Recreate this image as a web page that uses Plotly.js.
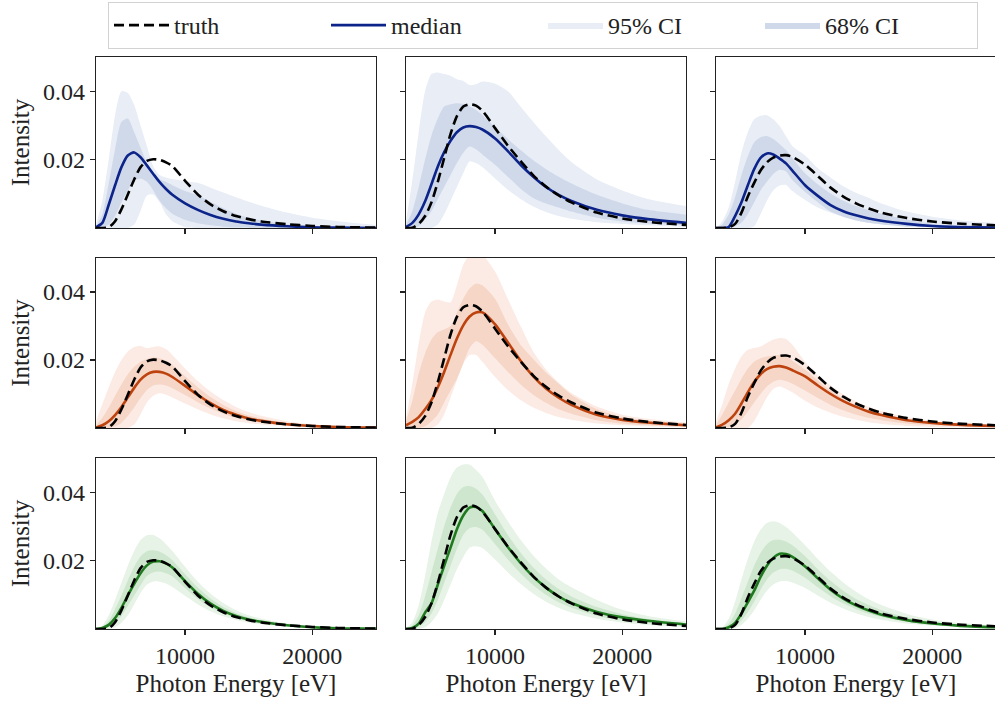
<!DOCTYPE html>
<html>
<head>
<meta charset="utf-8">
<script src="https://cdn.plot.ly/plotly-3.0.1.min.js"></script>
<style>
html, body { margin:0; padding:0; overflow:hidden; background:#fff; }
#plot { width:1000px; height:701px; }
</style>
</head>
<body>
<div id="plot"></div>
<script>
// ---------- data ----------
const energy = [3000,3500,4000,4500,5000,5500,6000,6500,7000,7500,8000,8500,9000,10000,11000,12000,13000,14000,15000,16000,18000,20000,22000,25000];

// truth spectra (one per column)
const truthA = [0,0,0.0002,0.002,0.0055,0.0098,0.0142,0.0178,0.0196,0.0201,0.0199,0.0192,0.0181,0.0138,0.0098,0.0069,0.0049,0.0035,0.0026,0.0019,0.0011,0.0006,0.0003,0.0001];
const truthB = [0,0.0001,0.0012,0.0035,0.0075,0.0135,0.0205,0.0275,0.0327,0.0355,0.0362,0.0358,0.0343,0.0292,0.0241,0.0196,0.0154,0.0121,0.0095,0.0075,0.0045,0.0028,0.0018,0.0009];
const truthC = [0,0,0.0002,0.0012,0.0045,0.0092,0.0132,0.0168,0.0192,0.0206,0.0212,0.0213,0.0208,0.0185,0.0152,0.0118,0.0092,0.0072,0.0057,0.0045,0.0029,0.0019,0.0013,0.0008];

// row 1 (blue)
const med_r1c1 = [0.0002,0.0015,0.0068,0.0125,0.0178,0.0212,0.0221,0.0207,0.0183,0.0158,0.0134,0.0114,0.0097,0.0072,0.0053,0.0038,0.0027,0.0019,0.0014,0.001,0.0005,0.0002,0.0001,0];
const hi95_r1c1 = [0.001,0.008,0.02,0.033,0.04,0.0395,0.036,0.03,0.024,0.018,0.0155,0.0148,0.0143,0.0137,0.0132,0.0118,0.0104,0.009,0.0077,0.0065,0.0045,0.003,0.002,0.0009];
const lo95_r1c1 = [0,0,0,0,0,0,0.001,0.005,0.0095,0.0098,0.0075,0.004,0.002,0.0003,0,0,0,0,0,0,0,0,0,0];
const hi68_r1c1 = [0.0005,0.004,0.013,0.023,0.031,0.032,0.028,0.0235,0.019,0.0155,0.0142,0.0135,0.0125,0.0108,0.0095,0.0077,0.0058,0.0042,0.003,0.0021,0.0011,0.0005,0.0002,0.0001];
const lo68_r1c1 = [0,0,0.001,0.0035,0.0075,0.011,0.0138,0.0145,0.0135,0.011,0.008,0.0058,0.0042,0.0024,0.0014,0.0008,0.0004,0.0002,0.0001,0,0,0,0,0];

const med_r1c2 = [0.0003,0.0015,0.004,0.0078,0.0128,0.018,0.0222,0.0255,0.028,0.0294,0.0298,0.0295,0.0288,0.0262,0.0225,0.0185,0.015,0.012,0.0097,0.0079,0.0053,0.0037,0.0026,0.0015];
const hi95_r1c2 = [0.002,0.014,0.028,0.04,0.045,0.0455,0.045,0.0445,0.0435,0.043,0.0418,0.042,0.0428,0.0422,0.04,0.0355,0.031,0.0268,0.0228,0.0193,0.0142,0.011,0.0085,0.0064];
const lo95_r1c2 = [0,0,0,0,0,0.001,0.004,0.008,0.012,0.016,0.0195,0.019,0.0178,0.0145,0.0112,0.0085,0.0063,0.0047,0.0035,0.0027,0.0017,0.0012,0.0008,0.0004];
const hi68_r1c2 = [0.001,0.005,0.012,0.02,0.027,0.032,0.0355,0.0362,0.0365,0.0363,0.0355,0.0345,0.033,0.0295,0.026,0.0228,0.0198,0.0172,0.015,0.013,0.0097,0.0072,0.0053,0.0039];
const lo68_r1c2 = [0,0,0.0005,0.0025,0.005,0.0085,0.012,0.0155,0.019,0.022,0.0238,0.023,0.0215,0.0185,0.015,0.0115,0.0088,0.0072,0.006,0.0048,0.003,0.0019,0.0013,0.0008];

const med_r1c3 = [0,0,0.0003,0.0035,0.0075,0.0125,0.0172,0.0205,0.0218,0.0215,0.0203,0.0189,0.0168,0.0125,0.0094,0.0067,0.0049,0.0037,0.0028,0.0021,0.0012,0.0006,0.0003,0.0001];
const hi95_r1c3 = [0,0.002,0.006,0.0135,0.022,0.028,0.0318,0.0328,0.033,0.0318,0.0298,0.0268,0.024,0.0212,0.0175,0.0148,0.0122,0.0103,0.0088,0.0072,0.0048,0.0033,0.0023,0.0015];
const lo95_r1c3 = [0,0,0,0,0,0,0.0005,0.004,0.008,0.011,0.0124,0.0126,0.0108,0.0082,0.006,0.0045,0.0032,0.0024,0.0018,0.0012,0.0005,0.0002,0.0001,0];
const hi68_r1c3 = [0,0.001,0.004,0.009,0.0155,0.021,0.025,0.0265,0.0269,0.026,0.0245,0.0228,0.0205,0.016,0.0128,0.0101,0.008,0.0064,0.0052,0.0042,0.0025,0.0012,0.0007,0.0004];
const lo68_r1c3 = [0,0,0,0.0005,0.0015,0.004,0.0075,0.011,0.0135,0.0158,0.017,0.0165,0.014,0.0105,0.0075,0.0048,0.0033,0.0022,0.0015,0.001,0.0004,0.0002,0.0001,0];

// row 2 (orange)
const med_r2c1 = [0.0001,0.0008,0.002,0.0038,0.0062,0.009,0.0118,0.0142,0.0158,0.0165,0.0165,0.016,0.015,0.0124,0.0097,0.0073,0.0053,0.0039,0.0028,0.0021,0.0011,0.0006,0.0003,0.0001];
const hi95_r2c1 = [0.002,0.007,0.012,0.0165,0.02,0.0225,0.0238,0.0242,0.0235,0.0238,0.024,0.0232,0.0215,0.0175,0.0138,0.0107,0.0082,0.0062,0.0047,0.0036,0.002,0.0011,0.0006,0.0003];
const lo95_r2c1 = [0,0,0,0,0,0,0.001,0.004,0.0075,0.0095,0.0102,0.0098,0.009,0.0072,0.0055,0.004,0.0029,0.002,0.0014,0.001,0.0005,0.0002,0.0001,0];
const hi68_r2c1 = [0.0008,0.003,0.006,0.0095,0.0128,0.0158,0.018,0.0195,0.0203,0.0207,0.0205,0.0198,0.0185,0.0152,0.012,0.0091,0.0068,0.005,0.0037,0.0028,0.0015,0.0008,0.0004,0.0002];
const lo68_r2c1 = [0,0,0,0.0005,0.0015,0.0035,0.006,0.0088,0.0112,0.0125,0.0128,0.0125,0.0117,0.0097,0.0076,0.0057,0.0042,0.003,0.0022,0.0016,0.0008,0.0004,0.0002,0.0001];

const med_r2c2 = [0.0008,0.0018,0.0032,0.0055,0.0082,0.012,0.0165,0.0215,0.0263,0.0302,0.0328,0.034,0.034,0.0305,0.0252,0.0198,0.0152,0.0116,0.0089,0.0068,0.0039,0.0024,0.0016,0.0008];
const hi95_r2c2 = [0.003,0.013,0.025,0.034,0.0372,0.0378,0.0372,0.037,0.042,0.048,0.051,0.052,0.051,0.046,0.038,0.03,0.0225,0.0172,0.0133,0.0103,0.0063,0.0039,0.0027,0.0016];
const lo95_r2c2 = [0,0,0,0,0,0.001,0.004,0.009,0.014,0.019,0.0215,0.0215,0.0195,0.015,0.0112,0.0082,0.006,0.0044,0.0032,0.0024,0.0013,0.0008,0.0005,0.0002];
const hi68_r2c2 = [0.002,0.008,0.016,0.022,0.026,0.0282,0.029,0.03,0.034,0.038,0.041,0.0425,0.042,0.038,0.0305,0.0245,0.0203,0.0163,0.013,0.0098,0.0055,0.0032,0.0022,0.0013];
const lo68_r2c2 = [0,0,0,0.0005,0.002,0.004,0.0075,0.011,0.0145,0.019,0.0235,0.0255,0.0245,0.0205,0.0165,0.0128,0.0098,0.0074,0.0055,0.0042,0.0023,0.0013,0.0008,0.0004];

const med_r2c3 = [0.0002,0.001,0.0023,0.0042,0.0072,0.0105,0.0135,0.0158,0.0173,0.018,0.0182,0.0178,0.017,0.0152,0.0125,0.01,0.0079,0.0062,0.0048,0.0038,0.0023,0.0015,0.001,0.0006];
const hi95_r2c3 = [0.002,0.007,0.013,0.0175,0.021,0.023,0.0235,0.024,0.025,0.026,0.0265,0.0262,0.0245,0.0195,0.0155,0.0125,0.0099,0.0078,0.0062,0.005,0.0032,0.0021,0.0015,0.001];
const lo95_r2c3 = [0,0,0,0,0,0,0.002,0.0055,0.009,0.0115,0.0122,0.0115,0.0105,0.008,0.006,0.0045,0.0033,0.0024,0.0017,0.0012,0.0006,0.0003,0.0002,0.0001];
const hi68_r2c3 = [0.001,0.004,0.0075,0.011,0.0145,0.0175,0.0195,0.0205,0.021,0.0213,0.0215,0.021,0.0198,0.0172,0.014,0.011,0.0086,0.0067,0.0052,0.0041,0.0025,0.0016,0.0011,0.0007];
const lo68_r2c3 = [0,0,0.0003,0.001,0.0025,0.0048,0.0075,0.01,0.0122,0.0136,0.0142,0.0138,0.013,0.011,0.0088,0.0068,0.0052,0.0039,0.003,0.0023,0.0013,0.0008,0.0005,0.0003];

// row 3 (green)
const med_r3c1 = [0,0.0003,0.0012,0.0032,0.0062,0.0098,0.0132,0.0163,0.0186,0.0197,0.0198,0.0192,0.018,0.014,0.0103,0.0074,0.0053,0.0038,0.0028,0.0021,0.0011,0.0005,0.0002,0.0001];
const hi95_r3c1 = [0,0.001,0.004,0.0085,0.0135,0.0185,0.0228,0.026,0.0274,0.0275,0.0265,0.0248,0.0228,0.0182,0.0138,0.0103,0.0076,0.0055,0.004,0.003,0.0016,0.0008,0.0004,0.0002];
const lo95_r3c1 = [0,0,0,0.0005,0.0018,0.004,0.0072,0.0105,0.013,0.0139,0.0138,0.0133,0.0123,0.0097,0.0072,0.0052,0.0037,0.0026,0.0019,0.0014,0.0007,0.0003,0.0001,0];
const hi68_r3c1 = [0,0.0006,0.0024,0.0058,0.0098,0.0142,0.0182,0.0212,0.0227,0.023,0.0226,0.0216,0.0201,0.016,0.0121,0.0089,0.0064,0.0046,0.0034,0.0025,0.0013,0.0006,0.0003,0.0001];
const lo68_r3c1 = [0,0.0001,0.0006,0.0018,0.0038,0.0068,0.0098,0.0128,0.0155,0.0166,0.0168,0.0163,0.0154,0.012,0.0088,0.0063,0.0045,0.0032,0.0023,0.0017,0.0009,0.0004,0.0002,0.0001];

const med_r3c2 = [0,0.0003,0.0016,0.0048,0.0075,0.013,0.0185,0.0238,0.0292,0.0332,0.0355,0.0357,0.0345,0.0292,0.024,0.0193,0.0153,0.0121,0.0095,0.0076,0.005,0.0034,0.0024,0.0013];
const hi95_r3c2 = [0.0002,0.002,0.007,0.0155,0.0255,0.034,0.0395,0.0443,0.0472,0.0481,0.048,0.0465,0.0445,0.0375,0.0315,0.0261,0.0215,0.0177,0.0145,0.0122,0.0085,0.0056,0.0038,0.0022];
const lo95_r3c2 = [0,0,0,0.0005,0.002,0.0045,0.0085,0.013,0.0175,0.021,0.0238,0.0242,0.0237,0.0203,0.0166,0.0132,0.0103,0.008,0.0062,0.0048,0.003,0.0019,0.0012,0.0006];
const hi68_r3c2 = [0,0.001,0.004,0.0095,0.0165,0.0235,0.03,0.0355,0.0395,0.0415,0.0418,0.041,0.0393,0.0335,0.0275,0.0223,0.018,0.0145,0.0117,0.0095,0.0064,0.0043,0.0029,0.0017];
const lo68_r3c2 = [0,0,0.0006,0.002,0.0045,0.0085,0.0135,0.0185,0.0235,0.0275,0.0295,0.0298,0.029,0.0248,0.0204,0.0163,0.0128,0.01,0.0078,0.0062,0.0039,0.0025,0.0017,0.0009];

const med_r3c3 = [0,0,0.0005,0.0018,0.0045,0.0078,0.0112,0.0152,0.0185,0.0208,0.022,0.0219,0.0211,0.0183,0.0148,0.0115,0.0089,0.0069,0.0054,0.0042,0.0026,0.0016,0.001,0.0005];
const hi95_r3c3 = [0,0.0005,0.003,0.008,0.0145,0.0205,0.0255,0.029,0.031,0.0315,0.031,0.0298,0.0282,0.0245,0.0205,0.0168,0.0136,0.0109,0.0087,0.007,0.0044,0.0028,0.0018,0.001];
const lo95_r3c3 = [0,0,0,0.0003,0.0012,0.003,0.0055,0.0085,0.0112,0.013,0.0139,0.014,0.0136,0.012,0.0098,0.0077,0.006,0.0046,0.0035,0.0027,0.0016,0.001,0.0006,0.0003];
const hi68_r3c3 = [0,0.0002,0.0015,0.0045,0.009,0.0138,0.0185,0.0222,0.0248,0.026,0.0261,0.0256,0.0245,0.0213,0.0175,0.0141,0.0112,0.0088,0.007,0.0055,0.0034,0.0021,0.0013,0.0007];
const lo68_r3c3 = [0,0,0.0002,0.0008,0.0025,0.005,0.008,0.0115,0.0145,0.0165,0.0175,0.0176,0.0171,0.015,0.0122,0.0096,0.0075,0.0058,0.0045,0.0035,0.0021,0.0013,0.0008,0.0004];

const xTicks = [10000, 20000];
const xTickText = ['10000', '20000'];
const yTicks = [0.02, 0.04];
const yTickText = ['0.02', '0.04'];

// ---------- styling ----------
const rowColors = [
  {line:'#0c2389', f95:'#e8edf6', f68:'#d0d9ea'},
  {line:'#bd420e', f95:'#fcebe4', f68:'#f6d6c7'},
  {line:'#1f7a1f', f95:'#e6f3e6', f68:'#cde6cd'}
];
const truths = [truthA, truthB, truthC];
const panels = [
  [[med_r1c1,hi95_r1c1,lo95_r1c1,hi68_r1c1,lo68_r1c1],[med_r1c2,hi95_r1c2,lo95_r1c2,hi68_r1c2,lo68_r1c2],[med_r1c3,hi95_r1c3,lo95_r1c3,hi68_r1c3,lo68_r1c3]],
  [[med_r2c1,hi95_r2c1,lo95_r2c1,hi68_r2c1,lo68_r2c1],[med_r2c2,hi95_r2c2,lo95_r2c2,hi68_r2c2,lo68_r2c2],[med_r2c3,hi95_r2c3,lo95_r2c3,hi68_r2c3,lo68_r2c3]],
  [[med_r3c1,hi95_r3c1,lo95_r3c1,hi68_r3c1,lo68_r3c1],[med_r3c2,hi95_r3c2,lo95_r3c2,hi68_r3c2,lo68_r3c2],[med_r3c3,hi95_r3c3,lo95_r3c3,hi68_r3c3,lo68_r3c3]]
];

const W = 1000, H = 701;
const colPx = [[96,376],[406,686],[716,996]];
const rowPx = [[57,228],[258,428],[458,629]];
const FONT = 'Liberation Serif, Times New Roman, serif';

const traces = [];
const layout = {
  width: W, height: H,
  margin: {l:0, r:0, t:0, b:0},
  paper_bgcolor: '#ffffff', plot_bgcolor: '#ffffff',
  font: {family: FONT, size: 24, color: '#222'},
  showlegend: true,
  legend: {
    orientation: 'h', x: 0.543, y: 1 - 2/H, xanchor: 'center', yanchor: 'top',
    bordercolor: '#d2d2d2', borderwidth: 1, bgcolor: '#ffffff',
    font: {family: FONT, size: 24, color: '#222'},
    entrywidth: 147, entrywidthmode: 'pixels', itemwidth: 55,
    traceorder: 'normal'
  }
};

for (let r = 0; r < 3; r++) {
  for (let c = 0; c < 3; c++) {
    const k = r*3 + c + 1;
    const xa = 'x' + k, ya = 'y' + k;
    const [med, hi95, lo95, hi68, lo68] = panels[r][c];
    const col = rowColors[r];
    const leg = (k === 1);
    const sp = {shape: 'spline', smoothing: 0.7};
    traces.push({x: energy, y: lo95, xaxis: xa, yaxis: ya, mode: 'lines', line: Object.assign({width: 0, color: col.f95}, sp), showlegend: false, hoverinfo: 'skip'});
    traces.push({x: energy, y: hi95, xaxis: xa, yaxis: ya, mode: 'lines', fill: 'tonexty', fillcolor: col.f95, line: Object.assign({width: 0, color: col.f95}, sp), name: '95% CI', showlegend: leg, legendrank: 3});
    traces.push({x: energy, y: lo68, xaxis: xa, yaxis: ya, mode: 'lines', line: Object.assign({width: 0, color: col.f68}, sp), showlegend: false, hoverinfo: 'skip'});
    traces.push({x: energy, y: hi68, xaxis: xa, yaxis: ya, mode: 'lines', fill: 'tonexty', fillcolor: col.f68, line: Object.assign({width: 0, color: col.f68}, sp), name: '68% CI', showlegend: leg, legendrank: 4});
    traces.push({x: energy, y: med, xaxis: xa, yaxis: ya, mode: 'lines', line: Object.assign({width: 2.6, color: col.line}, sp), name: 'median', showlegend: leg, legendrank: 2});
    traces.push({x: energy, y: truths[c], xaxis: xa, yaxis: ya, mode: 'lines', line: Object.assign({width: 2.6, color: '#000000', dash: '10px,5px'}, sp), name: 'truth', showlegend: leg, legendrank: 1});

    const axBase = {showgrid: false, zeroline: false, showline: true, mirror: true, linecolor: '#222', linewidth: 1.3,
      ticks: 'outside', ticklen: 5, tickwidth: 1.3, tickcolor: '#222', automargin: false,
      tickfont: {family: FONT, size: 24, color: '#222'}};
    layout['xaxis' + k] = Object.assign({}, axBase, {
      domain: [colPx[c][0]/W, colPx[c][1]/W], anchor: ya, range: [3000, 25000],
      tickmode: 'array', tickvals: xTicks, ticktext: xTickText, showticklabels: r === 2,
      title: r === 2 ? {text: 'Photon Energy [eV]', font: {family: FONT, size: 25, color: '#222'}, standoff: 6} : {text: ''}
    });
    layout['yaxis' + k] = Object.assign({}, axBase, {
      domain: [1 - rowPx[r][1]/H, 1 - rowPx[r][0]/H], anchor: xa, range: [0, 0.05],
      tickmode: 'array', tickvals: yTicks, ticktext: yTickText, showticklabels: c === 0,
      title: c === 0 ? {text: 'Intensity', font: {family: FONT, size: 25, color: '#222'}, standoff: 6} : {text: ''}
    });
  }
}

Plotly.newPlot('plot', traces, layout, {displayModeBar: false, staticPlot: true});
</script>
</body>
</html>
